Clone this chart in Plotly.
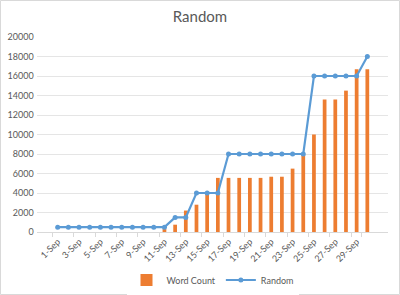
import plotly.graph_objects as go

days = [f"{d}-Sep" for d in range(1, 31)]
word_count = [0, 0, 0, 0, 0, 0, 0, 0, 0, 0, 300, 750, 2200, 2800, 4000,
              5550, 5550, 5550, 5550, 5550, 5670, 5670, 6500, 7900, 10000,
              13600, 13600, 14500, 16700, 16700]
random_vals = [500] * 11 + [1500, 1500, 4000, 4000, 4000] + [8000] * 8 + [16000] * 5 + [18000]
tick_labels = days[::2]

W, H = 400, 295
ml, mr, mt, mb = 37, 12, 37, 63
pw = W - ml - mr
ph = H - mt - mb

fig = go.Figure()
fig.add_trace(go.Bar(x=days, y=word_count, name="Word Count",
                     marker=dict(color="#ED7D31", line=dict(width=0))))
fig.add_trace(go.Scatter(x=days, y=random_vals, name="Random", mode="lines+markers",
                         line=dict(color="#5B9BD5", width=2.2),
                         marker=dict(color="#5B9BD5", size=5)))

fig.update_layout(
    width=W, height=H,
    margin=dict(l=ml, r=mr, t=mt, b=mb, autoexpand=False),
    paper_bgcolor="white", plot_bgcolor="white",
    font=dict(family="Lato, Liberation Sans, sans-serif", color="#595959", size=9),
    title=dict(text="Random", x=0.5, xanchor="center", y=1 - 17 / H, yanchor="middle",
               font=dict(size=15, color="#595959")),
    bargap=0.65,
    showlegend=True,
    legend=dict(orientation="h", x=0.5, xanchor="center", y=-(280 - mt - ph) / ph,
                yanchor="middle", font=dict(size=9, color="#595959"),
                itemwidth=30, traceorder="normal"),
    xaxis=dict(type="category", tickvals=tick_labels, ticktext=tick_labels,
               tickangle=-45, showgrid=False, showline=True, linecolor="#D9D9D9",
               linewidth=1, ticks="outside", ticklen=4, tickcolor="#D9D9D9",
               tickson="boundaries", automargin=False,
               tickfont=dict(size=9, color="#595959")),
    yaxis=dict(range=[0, 20000], dtick=2000, showgrid=True, gridcolor="#E5E5E5",
               gridwidth=1, zeroline=False, showline=False, ticks="",
               tickformat="d", automargin=False,
               tickfont=dict(size=9, color="#595959"), ticksuffix=" "),
    shapes=[dict(type="rect", xref="paper", yref="paper",
                 x0=-ml / pw + 0.5 / pw, x1=1 + (mr - 0.5) / pw,
                 y0=-(mb - 0.5) / ph, y1=1 + (mt - 0.5) / ph,
                 line=dict(color="#D9D9D9", width=1), layer="below")],
)

fig.write_html("out.html")
